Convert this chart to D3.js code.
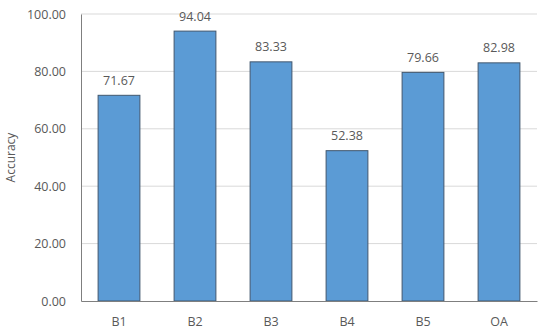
<!DOCTYPE html>
<html><head><meta charset="utf-8">
<script src="https://cdn.jsdelivr.net/npm/d3@7"></script>
<style>body{margin:0;background:#fff}svg text{font-family:"Open Sans",sans-serif;fill:#595959}</style>
</head><body><svg id="c" width="550" height="333"></svg>
<script>
const categories = ["B1","B2","B3","B4","B5","OA"];
const values = [71.67,94.04,83.33,52.38,79.66,82.98];
const yTicks = [0,20,40,60,80,100];

const svg = d3.select("#c");
const m = {l:81, r:13, t:14, b:32};
const W = 550, H = 333;
const x = d3.scaleBand().domain(categories).range([m.l, W-m.r]).paddingInner(0.45).paddingOuter(0.225);
const y = d3.scaleLinear().domain([0,100]).range([H-m.b, m.t]);

// gridlines
svg.append("g").selectAll("line").data(yTicks.filter(d=>d>0)).join("line")
  .attr("x1", m.l).attr("x2", W-m.r).attr("y1", d=>y(d)).attr("y2", d=>y(d))
  .attr("stroke", "#d9d9d9").attr("stroke-width", 1);

// bars
svg.append("g").selectAll("rect").data(values).join("rect")
  .attr("x", (d,i)=>x(categories[i])).attr("width", x.bandwidth())
  .attr("y", d=>y(d)).attr("height", d=>y(0)-y(d))
  .attr("fill", "#5b9bd5").attr("stroke", "#41576e").attr("stroke-width", 1);

// value labels
svg.append("g").selectAll("text").data(values).join("text")
  .attr("x", (d,i)=>x(categories[i])+x.bandwidth()/2).attr("y", d=>y(d)-10.5)
  .attr("text-anchor","middle").attr("font-size", 12.5).text(d=>d.toFixed(2));

// y axis
const ya = svg.append("g").attr("transform", `translate(${m.l},0)`)
  .call(d3.axisLeft(y).tickValues(yTicks).tickFormat(d=>d.toFixed(2)).tickSize(0).tickPadding(15));
ya.select(".domain").attr("stroke", "#7f7f7f");
ya.selectAll("text").attr("font-size", 12.5).attr("fill", "#595959");

// x axis
const xa = svg.append("g").attr("transform", `translate(0,${y(0)})`)
  .call(d3.axisBottom(x).tickSize(0).tickPadding(16));
xa.select(".domain").attr("stroke", "#7f7f7f");
xa.selectAll("text").attr("font-size", 12.5).attr("fill", "#595959");

svg.append("text").attr("transform", `translate(15,${(y(0)+y(100))/2}) rotate(-90)`)
  .attr("text-anchor","middle").attr("font-size", 12).text("Accuracy");
</script></body></html>
